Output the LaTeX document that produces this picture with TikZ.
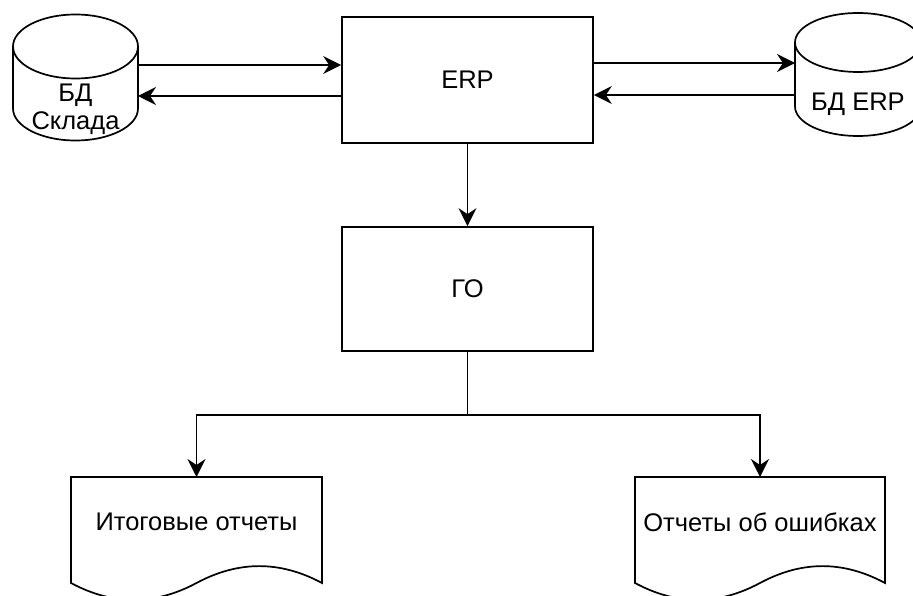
\documentclass[tikz,border=0pt]{standalone}
\usepackage{fontspec}
\setmainfont{Liberation Sans}
\usepackage{tikz}
\usetikzlibrary{arrows.meta,positioning}

\tikzset{
  flow/.style={-{Stealth[length=18pt, width=18pt, inset=6pt]}},
  block/.style={draw, minimum width=251pt, minimum height=126pt},
  dbase/.style={minimum height=62pt, inner sep=0pt, outer sep=0pt, align=center},
  report/.style={minimum width=251pt, minimum height=90pt, inner sep=0pt, outer sep=0pt},
}

\begin{document}
\begin{tikzpicture}[x=1pt, y=1pt, line width=1.7pt, font=\fontsize{25.5}{28}\selectfont]
    \useasboundingbox (0,0) rectangle (913,595);
    % main blocks
    \node(erp) at (467.5,515) [block] {ERP};
    \node(go) at (467.5,306) [block, minimum height=124pt] {ГО};
    \draw[flow] (erp) -- (go);
    % databases: node holds the text, outline drawn round it
    \node(sklad) at (75.5,485.5) [dbase, minimum width=125pt] {БД\\Склада};
    \node(erpdb) at (858,491) [dbase, minimum width=126pt, minimum height=64pt] {БД ERP};
    \foreach \n/\w/\r in {sklad/62.5/32, erpdb/63/29.5}
      \draw ([yshift=\r]\n.north east) arc[start angle=0, end angle=360, x radius=\w, y radius=\r]
        -- ([yshift=\r]\n.south east) arc[start angle=0, end angle=-180, x radius=\w, y radius=\r]
        -- ([yshift=\r]\n.north west);
    \coordinate (inL) at ([yshift=15]erp.west);
    \coordinate (outL) at ([yshift=-16]erp.west);
    \coordinate (outR) at ([yshift=17]erp.east);
    \coordinate (inR) at ([yshift=-15]erp.east);
    \draw[flow] (sklad.east |- inL) -- (inL);
    \draw[flow] (outL) -- (sklad.east |- outL);
    \draw[flow] (outR) -- (erpdb.west |- outR);
    \draw[flow] (erpdb.west |- inR) -- (inR);
    % reports
    \node(rep1) at (196.5,73) [report] {Итоговые отчеты};
    \node(rep2) at (760,73) [report, minimum width=250pt] {Отчеты об ошибках};
    \foreach \n in {rep1, rep2}
      \draw (\n.north west) -- (\n.north east) -- ([yshift=-16]\n.south east)
        .. controls +(-42,22.5) and +(42,22.5) .. ([yshift=-16]\n.south)
        .. controls +(-42,-22.5) and +(42,-22.5) .. ([yshift=-16]\n.south west) -- cycle;
    \coordinate (split) at ([yshift=-63]go.south);
    \draw (go) -- (split);
    \draw[flow] (split) -| (rep1.north);
    \draw[flow] (split) -| (rep2.north);
\end{tikzpicture}
\end{document}
